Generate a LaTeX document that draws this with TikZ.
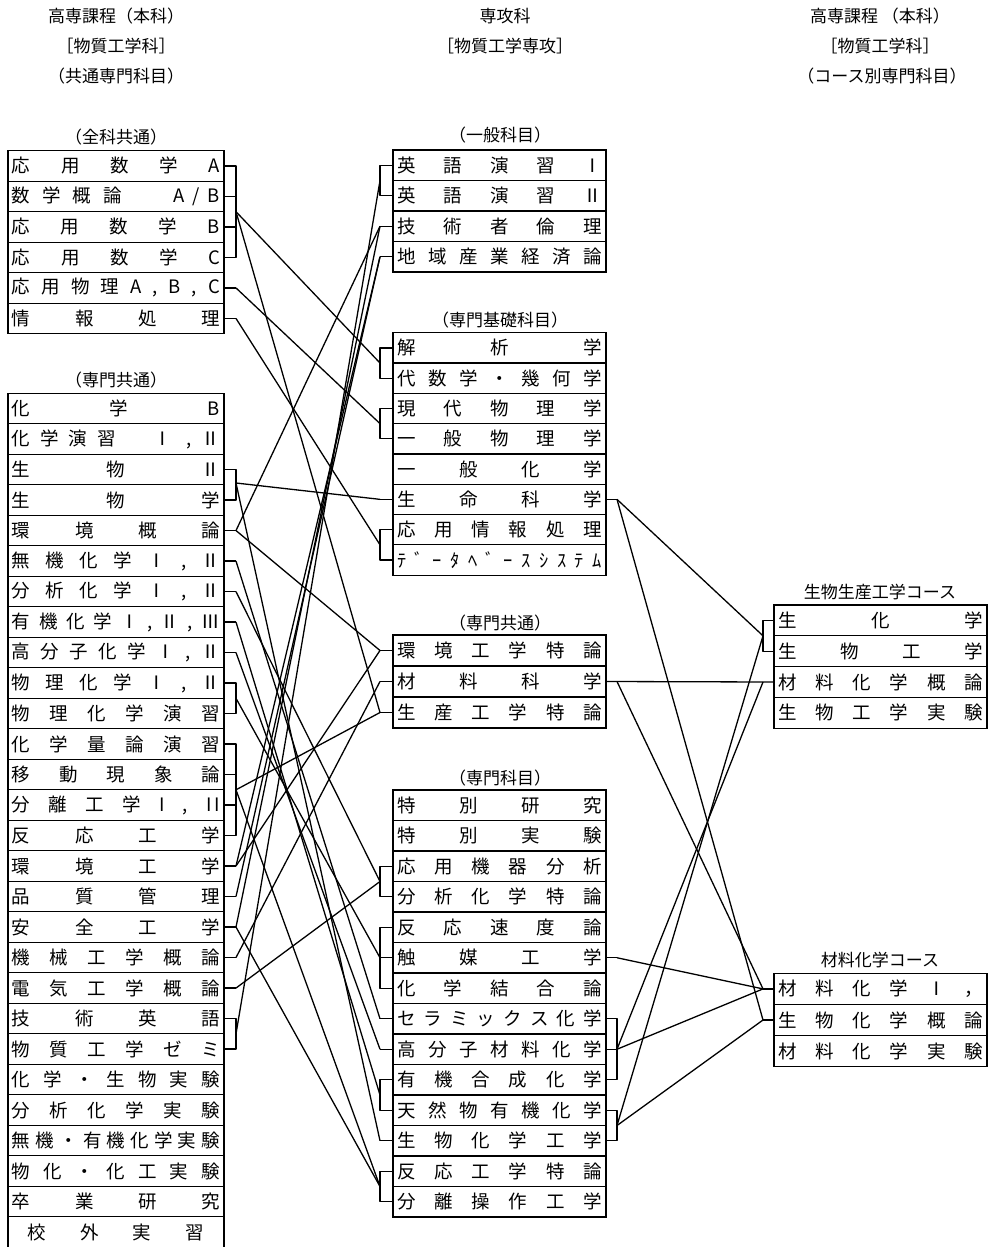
\documentclass[tikz,border=0pt]{standalone}
\usepackage{fontspec}
\setmainfont{Noto Sans CJK JP}
\newcommand\gp{\hfill}
\def\RH{30.5}
\newcommand\Lrow[3]{\node[cell,minimum width=216pt] (#1) at (116,#2) {\makebox[208pt]{#3}};}
\newcommand\Mrow[3]{\node[cell,minimum width=213pt] (#1) at (499.5,#2) {\makebox[205pt]{#3}};}
\newcommand\Rrow[3]{\node[cell,minimum width=213pt] (#1) at (880.5,#2) {\makebox[205pt]{#3}};}
\tikzset{
  cell/.style={draw, line width=1.2pt, minimum height=\RH pt, inner sep=0pt, font=\fontsize{18.5pt}{20pt}\selectfont},
  ttl/.style={font=\fontsize{17pt}{19pt}\selectfont, inner sep=0pt},
  hdr/.style={font=\fontsize{17pt}{19pt}\selectfont, inner sep=0pt},
  conn/.style={line width=1.3pt, line join=round},
}
\begin{document}
\begin{tikzpicture}[x=1pt,y=-1pt]
\useasboundingbox (0,0) rectangle (988,1247);
% headers
\node[hdr] (h1a) at (116,16) {高専課程（本科）};
\node[hdr] (h1b) at (116,46) {［物質工学科］};
\node[hdr] (h1c) at (116,76) {（共通専門科目）};
\node[hdr] (h2a) at (505,16) {専攻科};
\node[hdr] (h2b) at (505,46) {［物質工学専攻］};
\node[hdr] (h3a) at (880,16) {高専課程 （本科）};
\node[hdr] (h3b) at (880,46) {［物質工学科］};
\node[hdr] (h3c) at (882,76) {（コース別専門科目）};
% titles
\node[ttl] (t1) at (116,137) {（全科共通）};
\node[ttl] (t2) at (116,380) {（専門共通）};
\node[ttl] (t3) at (500,135) {（一般科目）};
\node[ttl] (t4) at (500,320) {（専門基礎科目）};
\node[ttl] (t5) at (500,623) {（専門共通）};
\node[ttl] (t6) at (500,778) {（専門科目）};
\node[ttl] (t7) at (880,592) {生物生産工学コース};
\node[ttl] (t8) at (880,960) {材料化学コース};
% left box 1
\Lrow{LA1}{165.95}{応\gp 用\gp 数\gp 学\gp A}
\Lrow{LA2}{196.45}{数\hspace{12pt}学\hspace{12pt}概\hspace{12pt}論\hfill A\hspace{8pt}/\hspace{8pt}B}
\Lrow{LA3}{226.95}{応\gp 用\gp 数\gp 学\gp B}
\Lrow{LA4}{257.45}{応\gp 用\gp 数\gp 学\gp C}
\Lrow{LA5}{287.95}{応\gp 用\gp 物\gp 理\gp A\gp ,\gp B\gp ,\gp C}
\Lrow{LA6}{318.45}{情\gp 報\gp 処\gp 理}
% left box 2
\Lrow{LB1}{408.55}{化\gp 学\gp B}
\Lrow{LB2}{439.05}{化\hspace{10pt}学\hspace{10pt}演\hspace{10pt}習\hfill Ⅰ\hspace{14pt},\hspace{10pt}Ⅱ}
\Lrow{LB3}{469.55}{生\gp 物\gp Ⅱ}
\Lrow{LB4}{500.05}{生\gp 物\gp 学}
\Lrow{LB5}{530.55}{環\gp 境\gp 概\gp 論}
\Lrow{LB6}{561.05}{無\gp 機\gp 化\gp 学\gp Ⅰ\gp ,\gp Ⅱ}
\Lrow{LB7}{591.55}{分\gp 析\gp 化\gp 学\gp Ⅰ\gp ,\gp Ⅱ}
\Lrow{LB8}{622.05}{有\gp 機\gp 化\gp 学\gp Ⅰ\gp ,\gp Ⅱ\gp ,\gp Ⅲ}
\Lrow{LB9}{652.55}{高\gp 分\gp 子\gp 化\gp 学\gp Ⅰ\gp ,\gp Ⅱ}
\Lrow{LB10}{683.05}{物\gp 理\gp 化\gp 学\gp Ⅰ\gp ,\gp Ⅱ}
\Lrow{LB11}{713.55}{物\gp 理\gp 化\gp 学\gp 演\gp 習}
\Lrow{LB12}{744.05}{化\gp 学\gp 量\gp 論\gp 演\gp 習}
\Lrow{LB13}{774.55}{移\gp 動\gp 現\gp 象\gp 論}
\Lrow{LB14}{805.05}{分\gp 離\gp 工\gp 学\gp I\gp ,\gp I\,I}
\Lrow{LB15}{835.55}{反\gp 応\gp 工\gp 学}
\Lrow{LB16}{866.05}{環\gp 境\gp 工\gp 学}
\Lrow{LB17}{896.55}{品\gp 質\gp 管\gp 理}
\Lrow{LB18}{927.05}{安\gp 全\gp 工\gp 学}
\Lrow{LB19}{957.55}{機\gp 械\gp 工\gp 学\gp 概\gp 論}
\Lrow{LB20}{988.05}{電\gp 気\gp 工\gp 学\gp 概\gp 論}
\Lrow{LB21}{1018.55}{技\gp 術\gp 英\gp 語}
\Lrow{LB22}{1049.05}{物\gp 質\gp 工\gp 学\gp ゼ\gp ミ}
\Lrow{LB23}{1079.55}{化\gp 学\gp ・\gp 生\gp 物\gp 実\gp 験}
\Lrow{LB24}{1110.05}{分\gp 析\gp 化\gp 学\gp 実\gp 験}
\Lrow{LB25}{1140.55}{無\gp 機\gp ・\gp 有\gp 機\gp 化\gp 学\gp 実\gp 験}
\Lrow{LB26}{1171.05}{物\gp 化\gp ・\gp 化\gp 工\gp 実\gp 験}
\Lrow{LB27}{1201.55}{卒\gp 業\gp 研\gp 究}
\Lrow{LB28}{1232.05}{\hspace{16pt}校\gp 外\gp 実\gp 習\hspace{16pt}}
% middle boxes
\Mrow{G1}{165.25}{英\gp 語\gp 演\gp 習\gp Ⅰ}
\Mrow{G2}{195.75}{英\gp 語\gp 演\gp 習\gp Ⅱ}
\Mrow{G3}{226.25}{技\gp 術\gp 者\gp 倫\gp 理}
\Mrow{G4}{256.75}{地\gp 域\gp 産\gp 業\gp 経\gp 済\gp 論}
\def\RH{30.3}
\Mrow{K1}{347.85}{解\gp 析\gp 学}
\Mrow{K2}{378.15}{代\gp 数\gp 学\gp ・\gp 幾\gp 何\gp 学}
\Mrow{K3}{408.45}{現\gp 代\gp 物\gp 理\gp 学}
\Mrow{K4}{438.75}{一\gp 般\gp 物\gp 理\gp 学}
\Mrow{K5}{469.05}{一\gp 般\gp 化\gp 学}
\Mrow{K6}{499.35}{生\gp 命\gp 科\gp 学}
\Mrow{K7}{529.65}{応\gp 用\gp 情\gp 報\gp 処\gp 理}
\Mrow{K8}{559.95}{ﾃ\gp ﾞ\gp ｰ\gp ﾀ\gp ﾍ\gp ﾞ\gp ｰ\gp ｽ\gp ｼ\gp ｽ\gp ﾃ\gp ﾑ}
\def\RH{31}
\Mrow{C1}{650.5}{環\gp 境\gp 工\gp 学\gp 特\gp 論}
\Mrow{C2}{681.5}{材\gp 料\gp 科\gp 学}
\Mrow{C3}{712.5}{生\gp 産\gp 工\gp 学\gp 特\gp 論}
\def\RH{30.5}
\Mrow{S1}{805.25}{特\gp 別\gp 研\gp 究}
\Mrow{S2}{835.75}{特\gp 別\gp 実\gp 験}
\Mrow{S3}{866.25}{応\gp 用\gp 機\gp 器\gp 分\gp 析}
\Mrow{S4}{896.75}{分\gp 析\gp 化\gp 学\gp 特\gp 論}
\Mrow{S5}{927.25}{反\gp 応\gp 速\gp 度\gp 論}
\Mrow{S6}{957.75}{触\gp 媒\gp 工\gp 学}
\Mrow{S7}{988.25}{化\gp 学\gp 結\gp 合\gp 論}
\Mrow{S8}{1018.75}{セ\gp ラ\gp ミ\gp ッ\gp ク\gp ス\gp 化\gp 学}
\Mrow{S9}{1049.25}{高\gp 分\gp 子\gp 材\gp 料\gp 化\gp 学}
\Mrow{S10}{1079.75}{有\gp 機\gp 合\gp 成\gp 化\gp 学}
\Mrow{S11}{1110.25}{天\gp 然\gp 物\gp 有\gp 機\gp 化\gp 学}
\Mrow{S12}{1140.75}{生\gp 物\gp 化\gp 学\gp 工\gp 学}
\Mrow{S13}{1171.25}{反\gp 応\gp 工\gp 学\gp 特\gp 論}
\Mrow{S14}{1201.75}{分\gp 離\gp 操\gp 作\gp 工\gp 学}
% right boxes
\def\RH{30.8}
\Rrow{P1}{620.4}{生\gp 化\gp 学}
\Rrow{P2}{651.2}{生\gp 物\gp 工\gp 学}
\Rrow{P3}{682}{材\gp 料\gp 化\gp 学\gp 概\gp 論}
\Rrow{P4}{712.8}{生\gp 物\gp 工\gp 学\gp 実\gp 験}
\def\RH{31.1}
\Rrow{Q1}{988.9}{材\gp 料\gp 化\gp 学\gp Ⅰ\gp ，}
\Rrow{Q2}{1020}{生\gp 物\gp 化\gp 学\gp 概\gp 論}
\Rrow{Q3}{1051.1}{材\gp 料\gp 化\gp 学\gp 実\gp 験}
% x guides
\coordinate (xL) at (236,0);
\coordinate (xM) at (380,0);
\coordinate (xR) at (617,0);
\coordinate (xC) at (763,0);
% left junctions
\coordinate (jMath) at (236,211.7);
\coordinate (jPhys) at (LA5.east -| xL);
\coordinate (jInfo) at (LA6.east -| xL);
\coordinate (jBio) at (236,483);
\coordinate (jEnv) at (LB5.east -| xL);
\coordinate (jInorg) at (LB6.east -| xL);
\coordinate (jAnal) at (LB7.east -| xL);
\coordinate (jOrg) at (LB8.east -| xL);
\coordinate (jPoly) at (LB9.east -| xL);
\coordinate (jPC) at (236,698.3);
\coordinate (jCE) at (236,789.8);
\coordinate (jEnvE) at (LB16.east -| xL);
\coordinate (jQual) at (LB17.east -| xL);
\coordinate (jSafe) at (LB18.east -| xL);
\coordinate (jMech) at (LB19.east -| xL);
\coordinate (jElec) at (LB20.east -| xL);
\coordinate (jEng) at (236,1033.8);
% middle-left junctions
\coordinate (mEng) at (380,180.5);
\coordinate (mEth) at (G3.west -| xM);
\coordinate (mReg) at (G4.west -| xM);
\coordinate (mMath) at (380,363);
\coordinate (mPhys) at (380,423.6);
\coordinate (mLife) at (K6.west -| xM);
\coordinate (mInfo) at (380,544.8);
\coordinate (mEnvS) at (C1.west -| xM);
\coordinate (mMat) at (C2.west -| xM);
\coordinate (mProd) at (C3.west -| xM);
\coordinate (mInst) at (380,881.5);
\coordinate (mKin) at (S6.west -| xM);
\coordinate (mCer) at (S8.west -| xM);
\coordinate (mPolM) at (S9.west -| xM);
\coordinate (mOrgS) at (380,1095);
\coordinate (mBioE) at (S12.west -| xM);
\coordinate (mReac) at (380,1186.5);
% middle-right junctions
\coordinate (rLife) at (K6.east -| xR);
\coordinate (rMat) at (C2.east -| xR);
\coordinate (rCat) at (S6.east -| xR);
\coordinate (rCer) at (S9.east -| xR);
\coordinate (rNat) at (617,1125.5);
% right-box junctions
\coordinate (cBio) at (763,635.8);
\coordinate (cMatI) at (Q1.west -| xC);
\coordinate (cBioC) at (Q2.west -| xC);
\coordinate (cMatN) at (P3.west -| xC);
% left brackets and stubs
\draw[conn] (LA1.east) -- (LA1.east -| xL) -- (LA4.east -| xL) -- (LA4.east);
\draw[conn] (LA2.east) -- (LA2.east -| xL);
\draw[conn] (LA3.east) -- (LA3.east -| xL);
\draw[conn] (LA5.east) -- (jPhys);
\draw[conn] (LA6.east) -- (jInfo);
\draw[conn] (LB3.east) -- (LB3.east -| xL) -- (LB4.east -| xL) -- (LB4.east);
\draw[conn] (LB5.east) -- (jEnv);
\draw[conn] (LB6.east) -- (jInorg);
\draw[conn] (LB7.east) -- (jAnal);
\draw[conn] (LB8.east) -- (jOrg);
\draw[conn] (LB9.east) -- (jPoly);
\draw[conn] (LB10.east) -- (LB10.east -| xL) -- (LB11.east -| xL) -- (LB11.east);
\draw[conn] (LB12.east) -- (LB12.east -| xL) -- (LB15.east -| xL) -- (LB15.east);
\draw[conn] (LB13.east) -- (LB13.east -| xL);
\draw[conn] (LB14.east) -- (LB14.east -| xL);
\draw[conn] (LB16.east) -- (jEnvE);
\draw[conn] (LB17.east) -- (jQual);
\draw[conn] (LB18.east) -- (jSafe);
\draw[conn] (LB19.east) -- (jMech);
\draw[conn] (LB20.east) -- (jElec);
\draw[conn] (LB21.east) -- (LB21.east -| xL) -- (LB22.east -| xL) -- (LB22.east);
% middle-left brackets and stubs
\draw[conn] (G1.west) -- (G1.west -| xM) -- (G2.west -| xM) -- (G2.west);
\draw[conn] (G3.west) -- (mEth);
\draw[conn] (G4.west) -- (mReg);
\draw[conn] (K1.west) -- (K1.west -| xM) -- (K2.west -| xM) -- (K2.west);
\draw[conn] (K3.west) -- (K3.west -| xM) -- (K4.west -| xM) -- (K4.west);
\draw[conn] (K6.west) -- (mLife);
\draw[conn] (K7.west) -- (K7.west -| xM) -- (K8.west -| xM) -- (K8.west);
\draw[conn] (C1.west) -- (mEnvS);
\draw[conn] (C2.west) -- (mMat);
\draw[conn] (C3.west) -- (mProd);
\draw[conn] (S3.west) -- (S3.west -| xM) -- (S4.west -| xM) -- (S4.west);
\draw[conn] (S5.west) -- (S5.west -| xM) -- (S7.west -| xM) -- (S7.west);
\draw[conn] (S6.west) -- (mKin);
\draw[conn] (S8.west) -- (mCer);
\draw[conn] (S9.west) -- (mPolM);
\draw[conn] (S10.west) -- (S10.west -| xM) -- (S11.west -| xM) -- (S11.west);
\draw[conn] (S12.west) -- (mBioE);
\draw[conn] (S13.west) -- (S13.west -| xM) -- (S14.west -| xM) -- (S14.west);
% middle-right brackets and stubs
\draw[conn] (K6.east) -- (rLife);
\draw[conn] (S6.east) -- (rCat);
\draw[conn] (S8.east) -- (S8.east -| xR) -- (S10.east -| xR) -- (S10.east);
\draw[conn] (S9.east) -- (rCer);
\draw[conn] (S11.east) -- (S11.east -| xR) -- (S12.east -| xR) -- (S12.east);
% right brackets and stubs
\draw[conn] (P1.west) -- (P1.west -| xC) -- (P2.west -| xC) -- (P2.west);
\draw[conn] (Q1.west) -- (cMatI);
\draw[conn] (Q2.west) -- (cBioC);
% connectors left -> middle
\draw[conn] (jMath) -- (mMath);
\draw[conn] (jMath) -- (mProd);
\draw[conn] (jPhys) -- (mPhys);
\draw[conn] (jInfo) -- (mInfo);
\draw[conn] (jBio) -- (mLife);
\draw[conn] (jBio) -- (mBioE);
\draw[conn] (jEnv) -- (mEnvS);
\draw[conn] (jEnv) -- (mEth);
\draw[conn] (jInorg) -- (mCer);
\draw[conn] (jAnal) -- (mInst);
\draw[conn] (jOrg) -- (mOrgS);
\draw[conn] (jPoly) -- (mPolM);
\draw[conn] (jPC) -- (mKin);
\draw[conn] (jCE) -- (mProd);
\draw[conn] (jCE) -- (mReac);
\draw[conn] (jEnvE) -- (mEnvS);
\draw[conn] (jEnvE) -- (mReg);
\draw[conn] (jQual) -- (mReg);
\draw[conn] (jSafe) -- (mEth);
\draw[conn] (jSafe) -- (mReac);
\draw[conn] (jMech) -- (mMat);
\draw[conn] (jElec) -- (mInst);
\draw[conn] (jEng) -- (mEng);
% connectors middle -> right
\draw[conn] (rLife) -- (cBio);
\draw[conn] (rLife) -- (cBioC);
\draw[conn] (C2.east) -- (P3.west);
\draw[conn] (rMat) -- (cMatI);
\draw[conn] (rCat) -- (cMatI);
\draw[conn] (rCer) -- (cMatN);
\draw[conn] (rCer) -- (cMatI);
\draw[conn] (rNat) -- (cBio);
\draw[conn] (rNat) -- (cBioC);
\end{tikzpicture}
\end{document}
